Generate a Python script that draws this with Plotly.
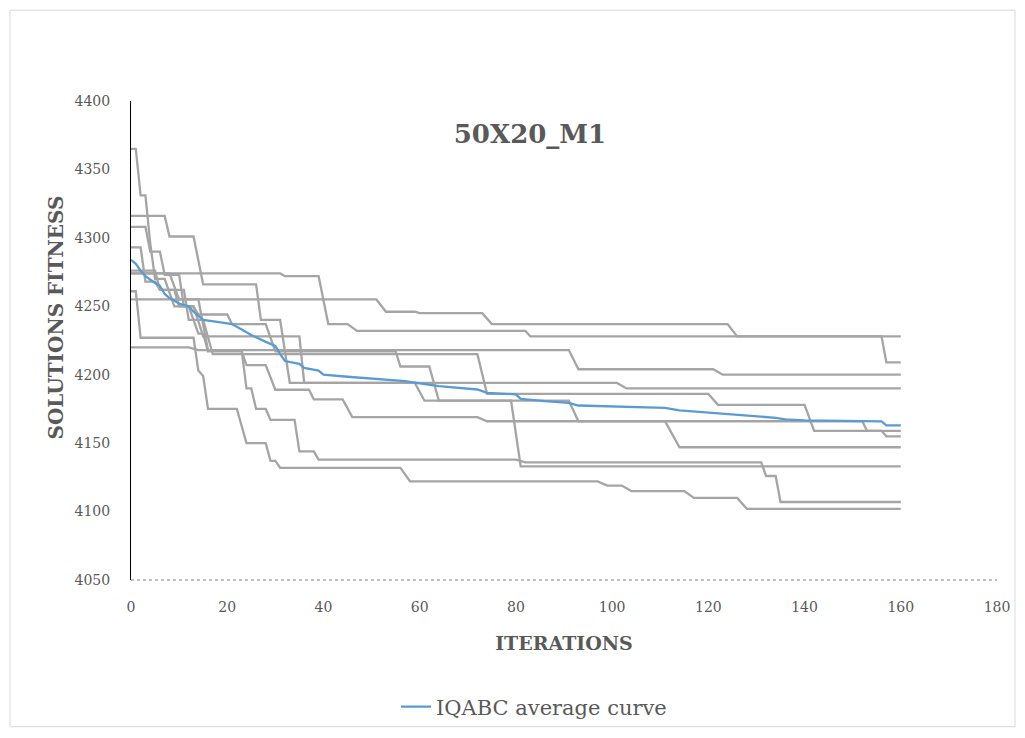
import plotly.graph_objects as go

# ---------------- data ----------------
title_text = "50X20_M1"
x_title = "ITERATIONS"
y_title = "SOLUTIONS FITNESS"
legend_name = "IQABC average curve"

x_ticks = [0, 20, 40, 60, 80, 100, 120, 140, 160, 180]
y_ticks = [4050, 4100, 4150, 4200, 4250, 4300, 4350, 4400]

# ten individual runs: (iteration, fitness) vertices of each step curve
run1_x = [0, 51, 53, 59, 60, 73, 75, 124, 126, 160]
run1_y = [4255, 4255, 4246, 4246, 4245, 4245, 4237, 4237, 4228, 4228]

run2_x = [0, 31, 32, 39, 41, 45, 47, 82, 83, 156, 157, 160]
run2_y = [4274, 4274, 4272, 4272, 4237, 4237, 4232, 4232, 4228, 4228, 4209, 4209]

run3_x = [0, 1, 2, 13, 14, 15, 16, 22, 24, 28, 29, 30, 31, 56, 58, 97, 99, 102, 104, 115, 117, 126, 128, 160]
run3_y = [4261, 4261, 4227, 4227, 4203, 4199, 4175, 4175, 4150, 4150, 4137, 4137, 4132, 4132, 4122, 4122, 4119, 4119, 4115, 4115, 4110, 4110, 4102, 4102]

run4_x = [0, 12, 14, 23, 24, 25, 26, 28, 29, 34, 35, 38, 39, 80, 82, 131, 132, 134, 135, 160]
run4_y = [4220, 4220, 4218, 4218, 4190, 4190, 4175, 4175, 4167, 4167, 4144, 4144, 4138, 4138, 4136, 4136, 4126, 4126, 4107, 4107]

run5_x = [0, 7, 8, 13, 15, 26, 27, 31, 33, 101, 103, 160]
run5_y = [4316, 4316, 4301, 4301, 4266, 4266, 4240, 4240, 4194, 4194, 4190, 4190]

run6_x = [0, 3, 4, 6, 7, 10, 11, 13, 15, 35, 36, 59, 61, 79, 81, 160]
run6_y = [4308, 4308, 4290, 4290, 4273, 4273, 4250, 4250, 4228, 4228, 4194, 4194, 4181, 4181, 4133, 4133]

run7_x = [0, 2, 3, 5, 6, 9, 10, 13, 14, 20, 21, 28, 30, 55, 56, 62, 64, 91, 93, 152, 153, 156, 157, 160]
run7_y = [4293, 4293, 4268, 4268, 4262, 4262, 4250, 4250, 4244, 4244, 4237, 4237, 4217, 4217, 4206, 4206, 4181, 4181, 4166, 4166, 4159, 4159, 4155, 4155]

run8_x = [0, 1, 2, 3, 4, 5, 7, 9, 12, 14, 15, 16, 23, 24, 28, 30, 37, 38, 44, 46, 72, 74, 111, 114, 160]
run8_y = [4365, 4365, 4331, 4331, 4296, 4270, 4270, 4250, 4250, 4230, 4230, 4217, 4217, 4207, 4207, 4189, 4189, 4182, 4182, 4169, 4169, 4166, 4166, 4147, 4147]

run9_x = [0, 8, 10, 14, 16, 91, 93, 121, 123, 160]
run9_y = [4274, 4274, 4255, 4255, 4218, 4218, 4204, 4204, 4200, 4200]

run10_x = [0, 5, 6, 11, 12, 15, 17, 72, 74, 120, 122, 140, 142, 160]
run10_y = [4276, 4276, 4262, 4262, 4240, 4240, 4215, 4215, 4186, 4186, 4178, 4178, 4159, 4159]

runs_x = [run1_x, run2_x, run3_x, run4_x, run5_x, run6_x, run7_x, run8_x, run9_x, run10_x]
runs_y = [run1_y, run2_y, run3_y, run4_y, run5_y, run6_y, run7_y, run8_y, run9_y, run10_y]

# average curve
avg_x = [0, 1, 2, 3, 5, 6, 7, 8, 10, 12, 13, 14, 15, 19, 21, 23, 25, 28, 30, 31, 32, 35, 36, 39, 40, 45, 50, 57, 60, 64, 72, 74, 80, 81, 86, 91, 93, 111, 114, 120, 129, 134, 136, 140, 156, 157, 160]
avg_y = [4284, 4281, 4276, 4272, 4267, 4265, 4259, 4256, 4252, 4250, 4246, 4243, 4240, 4238, 4237, 4233, 4229, 4224, 4221, 4215, 4210, 4208, 4205, 4203, 4200, 4198.5, 4197, 4195.3, 4193.6, 4191.6, 4189.2, 4186.8, 4185.6, 4182.4, 4180.7, 4179.5, 4177.5, 4175.8, 4174, 4172.2, 4169.7, 4168.5, 4167.3, 4166.6, 4165.9, 4163, 4163]

# ---------------- styles ----------------
GRAY = "#A5A5A5"
BLUE = "#5B9BD5"
TEXT = "#595959"
SERIF = "DejaVu Serif, Liberation Serif, serif"

fig = go.Figure()
for rx, ry in zip(runs_x, runs_y):
    fig.add_trace(go.Scatter(x=rx, y=ry, mode="lines",
                             line=dict(color=GRAY, width=2.3),
                             showlegend=False, hoverinfo="skip"))
fig.add_trace(go.Scatter(x=avg_x, y=avg_y, mode="lines", name=legend_name,
                         line=dict(color=BLUE, width=2.3), showlegend=True))

OFF = 8  # page body margin in the browser
W, H = 1025 - OFF, 738 - OFF
L, R, T, B = 131 - OFF, 997 - OFF, 101 - OFF, 581 - OFF
pw, ph = R - L, B - T


def px(xp):
    return (xp - OFF - L) / pw


def py(yp):
    return (B - (yp - OFF)) / ph


fig.update_layout(
    width=W, height=H,
    margin=dict(l=L, r=W - R, t=T, b=H - B, pad=0),
    paper_bgcolor="white", plot_bgcolor="white",
    title=dict(text="<b>" + title_text + "</b>", xref="paper", x=px(530), xanchor="center",
               yref="paper", y=py(134), yanchor="middle",
               font=dict(family=SERIF, size=26, color=TEXT)),
    xaxis=dict(range=[0, 180], tickvals=x_ticks, showgrid=False, zeroline=False,
               showline=False, ticks="", ticklabelstandoff=17,
               tickfont=dict(family=SERIF, size=14, color=TEXT),
               title=dict(text="<b>" + x_title + "</b>", standoff=22,
                          font=dict(family=SERIF, size=19, color=TEXT))),
    yaxis=dict(range=[4050, 4400], tickvals=y_ticks, showgrid=False, zeroline=False,
               showline=True, linecolor="#000000", linewidth=1, ticks="",
               ticklabelstandoff=17,
               tickfont=dict(family=SERIF, size=14, color=TEXT)),
    legend=dict(orientation="h", x=px(396), xanchor="left", y=py(707), yanchor="middle",
                font=dict(family=SERIF, size=21, color=TEXT), bgcolor="rgba(0,0,0,0)"),
    annotations=[
        dict(text="<b>" + y_title + "</b>", xref="paper", yref="paper",
             x=px(56), y=py(318), xanchor="center", yanchor="middle",
             textangle=-90, showarrow=False,
             font=dict(family=SERIF, size=20, color=TEXT)),
    ],
    shapes=[
        dict(type="line", xref="paper", yref="paper", x0=0, x1=1, y0=0, y1=0,
             line=dict(color="#7F7F7F", width=1, dash="dot")),
        dict(type="rect", xref="paper", yref="paper",
             x0=px(10), x1=px(1015), y0=py(728), y1=py(10),
             line=dict(color="#D9D9D9", width=1)),
    ],
)

fig.write_html("out.html")
